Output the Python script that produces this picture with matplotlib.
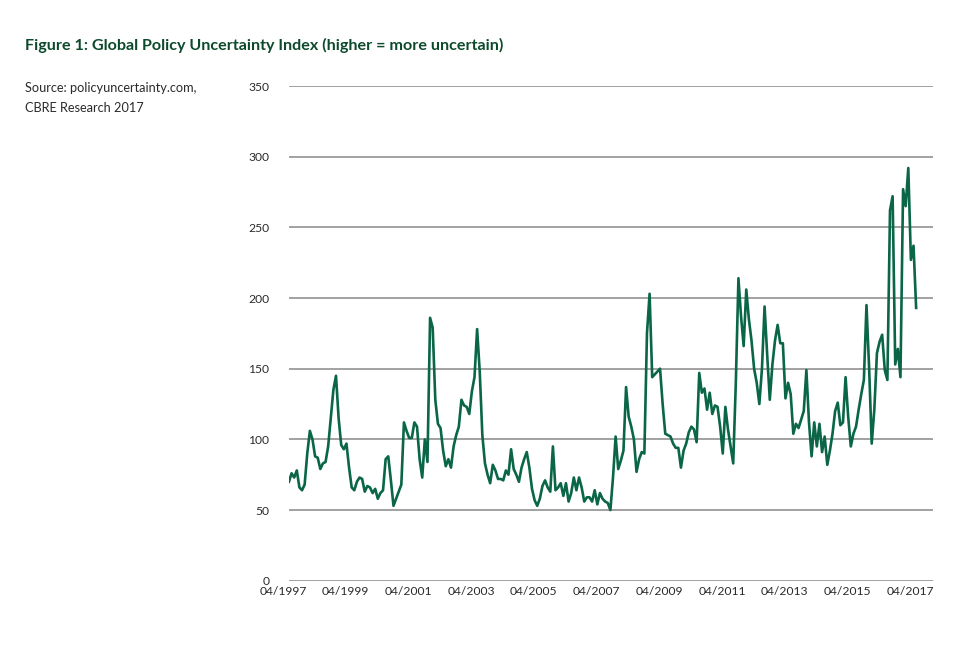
import numpy as np
import pandas as pd
import matplotlib
matplotlib.use("Agg")
import matplotlib.pyplot as plt
import matplotlib.transforms as mtransforms

# ------------------------------------------------------------
# DATA  (Global Economic Policy Uncertainty index, monthly,
#        04/1997 .. 04/2017, values read off the chart)
# ------------------------------------------------------------

start_month = "1997-04"

gepu_1997_2001 = [
    70, 76, 73, 78, 66, 64, 68, 90, 106, 100, 88, 87,
    79, 83, 84, 95, 115, 135, 145, 115, 96, 93, 97, 80,
    66, 64, 70, 73, 72, 63, 67, 66, 62, 65, 58, 62,
    64, 86, 88, 71, 53, 58, 63, 68, 112, 106, 101, 101,
]
gepu_2001_2005 = [
    112, 109, 86, 73, 100, 84, 186, 179, 128, 111, 108, 92,
    81, 86, 80, 95, 103, 109, 128, 124, 123, 118, 134, 144,
    178, 148, 103, 83, 75, 69, 82, 78, 72, 72, 71, 78,
    75, 93, 79, 75, 70, 80, 86, 91, 80, 65, 57, 53,
]
gepu_2005_2009 = [
    58, 67, 71, 66, 63, 95, 64, 66, 69, 60, 69, 56,
    62, 73, 64, 73, 66, 56, 59, 59, 56, 64, 54, 62,
    58, 56, 55, 50, 73, 102, 79, 85, 92, 137, 116, 109,
    100, 77, 86, 91, 90, 175, 203, 144, 146, 148, 150, 125,
]
gepu_2009_2013 = [
    104, 103, 102, 97, 94, 94, 80, 92, 97, 105, 109, 107,
    98, 147, 133, 136, 121, 133, 118, 124, 123, 109, 90, 123,
    107, 95, 83, 140, 214, 187, 166, 206, 185, 170, 150, 140,
    125, 150, 194, 160, 128, 153, 170, 181, 168, 168, 129, 140,
]
gepu_2013_2017 = [
    132, 104, 111, 108, 114, 120, 149, 112, 88, 112, 95, 111,
    91, 102, 82, 92, 104, 120, 126, 110, 112, 144, 116, 95,
    104, 109, 121, 132, 142, 195, 151, 97, 121, 161, 169, 174,
    149, 142, 262, 272, 153, 164, 144, 277, 265, 292, 227, 237,
    193,
]

gepu = (gepu_1997_2001 + gepu_2001_2005 + gepu_2005_2009
        + gepu_2009_2013 + gepu_2013_2017)

months = pd.period_range(start_month, periods=len(gepu), freq="M")
tick_every = 24

y_ticks = [0, 50, 100, 150, 200, 250, 300, 350]

title = "Figure 1: Global Policy Uncertainty Index (higher = more uncertain)"
source = "Source: policyuncertainty.com,\nCBRE Research 2017"

# ------------------------------------------------------------
# PLOT
# ------------------------------------------------------------

plt.rcParams["font.family"] = ["Lato", "DejaVu Sans"]

fig = plt.figure(figsize=(9.6, 6.53), dpi=100)
ax = fig.add_axes([0.301, 0.1107, 0.671, 0.7576])

x = np.arange(len(gepu))

ax.plot(x, gepu, color="#0a6647", linewidth=1.9, zorder=3)

ax.set_ylim(0, 350)
ax.set_xlim(0, 246.5)

ax.set_yticks(y_ticks)
ax.yaxis.grid(True, color="#9a9a9a", linewidth=1.3)
ax.set_axisbelow(True)

tick_pos = x[::tick_every]
ax.set_xticks(tick_pos)
ax.set_xticklabels([m.strftime("%m/%Y") for m in months[::tick_every]])

for s in ax.spines.values():
    s.set_visible(False)

ax.tick_params(axis="both", length=0, labelsize=8.7, colors="#2b2b2b")
ax.tick_params(axis="x", pad=4)
ax.tick_params(axis="y", pad=14)

# x labels sit a little left of their month in the original
shift = mtransforms.ScaledTranslation(-6 / 100, 0, fig.dpi_scale_trans)
for lbl in ax.get_xticklabels():
    lbl.set_transform(lbl.get_transform() + shift)

fig.text(25 / 960, 1 - 45 / 653, title, fontsize=11.6, fontweight="bold",
         color="#0d4a2c", va="center", ha="left")
fig.text(25 / 960, 1 - 98 / 653, source, fontsize=9.2, color="#2b2b2b",
         va="center", ha="left", linespacing=1.7)

fig.savefig("out.png", dpi=100, facecolor="white")
